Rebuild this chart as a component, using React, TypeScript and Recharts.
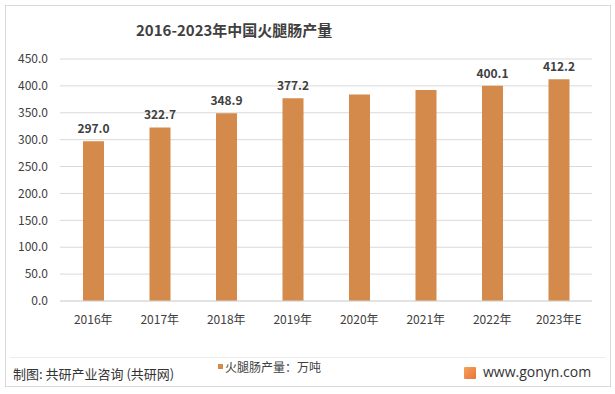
import React from 'react';
import { BarChart, Bar, XAxis, YAxis, CartesianGrid, LabelList } from 'recharts';

const years = ['2016年', '2017年', '2018年', '2019年', '2020年', '2021年', '2022年', '2023年E'];
const output = [297.0, 322.7, 348.9, 377.2, 384.0, 392.5, 400.1, 412.2];
const shownLabels = ['297.0', '322.7', '348.9', '377.2', '', '', '400.1', '412.2'];
const yTicks = [0, 50, 100, 150, 200, 250, 300, 350, 400, 450];
const seriesName = '火腿肠产量：万吨';

const data = years.map((y, i) => ({ year: y, value: output[i], label: shownLabels[i] }));

const FONT = '"Noto Sans CJK SC", "Noto Sans", sans-serif';
const BAR = '#D48A4B';

export default function App() {
  return (
    <div style={{ position: 'absolute', left: 0, top: 0, width: 615, height: 394, background: '#fff', fontFamily: FONT }}>
      <div style={{ position: 'absolute', left: 5, top: 5, width: 604, height: 380, border: '1px solid #d9d9d9' }} />
      <div style={{ position: 'absolute', left: 10, top: 357, width: 595, height: 1, background: '#ececec' }} />
      <div style={{ position: 'absolute', left: 0, top: 0 }}>
        <BarChart width={615} height={394} data={data} margin={{ top: 59, right: 23, bottom: 63, left: 0 }}>
          <CartesianGrid vertical={false} stroke="#d9d9d9" />
          <XAxis
            dataKey="year"
            height={30}
            axisLine={{ stroke: '#d9d9d9' }}
            tickLine={false}
            tickSize={0}
            tickMargin={14}
            tick={{ fill: '#404040', fontSize: 12, fontFamily: FONT }}
          />
          <YAxis
            width={60}
            domain={[0, 450]}
            ticks={yTicks}
            tickFormatter={(v: number) => v.toFixed(1)}
            axisLine={false}
            tickLine={false}
            tickSize={0}
            tickMargin={12}
            tick={{ fill: '#404040', fontSize: 12, fontFamily: FONT }}
          />
          <Bar dataKey="value" name={seriesName} fill={BAR} barSize={21} isAnimationActive={false}>
            <LabelList dataKey="label" position="top" offset={8} fill="#404040" fontSize={12} fontWeight="bold" fontFamily={FONT} />
          </Bar>
        </BarChart>
      </div>
      <div style={{ position: 'absolute', left: 136, top: 19, fontSize: 15, fontWeight: 'bold', color: '#404040', whiteSpace: 'nowrap' }}>
        2016-2023年中国火腿肠产量
      </div>
      <div style={{ position: 'absolute', left: 218, top: 364, width: 5, height: 5, background: BAR }} />
      <div style={{ position: 'absolute', left: 225, top: 358, fontSize: 12, color: '#404040', whiteSpace: 'nowrap' }}>
        {seriesName}
      </div>
      <div style={{ position: 'absolute', left: 13, top: 364, fontSize: 13, color: '#333', whiteSpace: 'nowrap' }}>
        制图: 共研产业咨询 (共研网)
      </div>
      <div style={{ position: 'absolute', left: 464, top: 367, width: 12, height: 12, background: 'linear-gradient(135deg,#f5a25a,#e8743b)', borderRadius: 1 }} />
      <div style={{ position: 'absolute', left: 483, top: 362, fontSize: 14, color: '#333', whiteSpace: 'nowrap', fontFamily: '"Open Sans", sans-serif' }}>
        www.gonyn.com
      </div>
    </div>
  );
}
